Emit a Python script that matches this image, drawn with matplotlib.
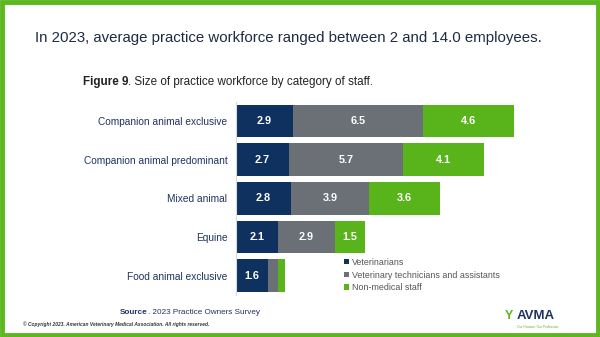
import matplotlib
matplotlib.use('Agg')
import matplotlib.pyplot as plt
from matplotlib.patches import Rectangle

plt.rcParams['font.family'] = ['Liberation Sans', 'DejaVu Sans']

categories = ['Companion animal exclusive', 'Companion animal predominant',
              'Mixed animal', 'Equine', 'Food animal exclusive']
series_names = ['Veterinarians', 'Veterinary technicians and assistants', 'Non-medical staff']
veterinarians = [2.9, 2.7, 2.8, 2.1, 1.6]
technicians = [6.5, 5.7, 3.9, 2.9, 0.5]
non_medical = [4.6, 4.1, 3.6, 1.5, 0.4]
show_labels = [True, True, True, True, False]

NAVY = '#0f3160'
GRAY = '#6b7076'
GREEN = '#59b31b'
TEXT = '#1f3460'

fig = plt.figure(figsize=(6.0, 3.37), dpi=100)
fig.patch.set_facecolor('white')


def bold_then_plain(x, y, bold, plain, size, color, ha='left'):
    # bold lead-in word followed by normal text on the same line
    renderer = fig.canvas.get_renderer()
    t1 = fig.text(x, y, bold, fontsize=size, color=color, fontweight='bold', va='center')
    t2 = fig.text(0, 0, plain, fontsize=size, color=color, va='center')
    w1 = t1.get_window_extent(renderer).width
    w2 = t2.get_window_extent(renderer).width
    if ha == 'center':
        x = x - (w1 + w2) / 2 / fig.bbox.width
        t1.set_x(x)
    t2.set_position((x + w1 / fig.bbox.width, y))


# green frame round the slide
fig.add_artist(Rectangle((0.003, 0.005), 0.994, 0.99, transform=fig.transFigure,
                         fill=False, edgecolor='#5cb81e', linewidth=3.5))

fig.text(0.058, 0.887, 'In 2023, average practice workforce ranged between 2 and 14.0 employees.',
         fontsize=10.8, color='#1e2b45', va='center')
bold_then_plain(0.138, 0.757, 'Figure 9', '. Size of practice workforce by category of staff.',
                8.4, '#222222')

ax = fig.add_axes([0.393, 0.125, 0.50, 0.573])
ys = list(range(len(categories)))
colors = [NAVY, GRAY, GREEN]
lefts = [0.0] * len(categories)
for vals, col, name in zip([veterinarians, technicians, non_medical], colors, series_names):
    bars = ax.barh(ys, vals, left=lefts, height=0.84, color=col, label=name)
    for i, (b, v) in enumerate(zip(bars, vals)):
        if show_labels[i] or col == NAVY:
            ax.text(b.get_x() + b.get_width() / 2, b.get_y() + b.get_height() / 2,
                    f'{v:.1f}', ha='center', va='center', color='white',
                    fontsize=7.8, fontweight='bold')
    lefts = [l + v for l, v in zip(lefts, vals)]

ax.set_xlim(0, 15.1)
ax.set_ylim(len(categories) - 0.5, -0.5)
ax.set_yticks(ys)
ax.set_yticklabels(categories, fontsize=7.3, color=TEXT)
ax.tick_params(axis='y', length=0, pad=6)
ax.set_xticks([])
for s in ['top', 'right', 'bottom']:
    ax.spines[s].set_visible(False)
ax.spines['left'].set_color('#d9d9d9')
ax.spines['left'].set_linewidth(0.8)

ax.legend(loc='upper left', bbox_to_anchor=(0.574, 0.235), bbox_transform=fig.transFigure,
          frameon=False, fontsize=6.4, handlelength=0.55, handleheight=0.55,
          handletextpad=0.3, labelspacing=0.42, labelcolor='#555555', borderaxespad=0,
          borderpad=0)

bold_then_plain(0.317, 0.074, 'Source', '. 2023 Practice Owners Survey', 5.9, '#1f3460',
                ha='center')
fig.text(0.038, 0.038, '\u00a9 Copyright 2023. American Veterinary Medical Association. All rights reserved.',
         fontsize=3.5, color='#333333', style='italic', fontweight='bold', va='center')

# AVMA mark
fig.text(0.848, 0.062, 'Y', fontsize=9, color='#5cb81e', fontweight='bold', va='center', ha='center')
fig.text(0.861, 0.062, 'AVMA', fontsize=9.5, color='#1f3460', fontweight='bold', va='center')
fig.text(0.862, 0.030, 'Our Passion. Our Profession.', fontsize=2.3, color='#5cb81e', va='center')

fig.savefig('out.png', dpi=100, facecolor='white')
